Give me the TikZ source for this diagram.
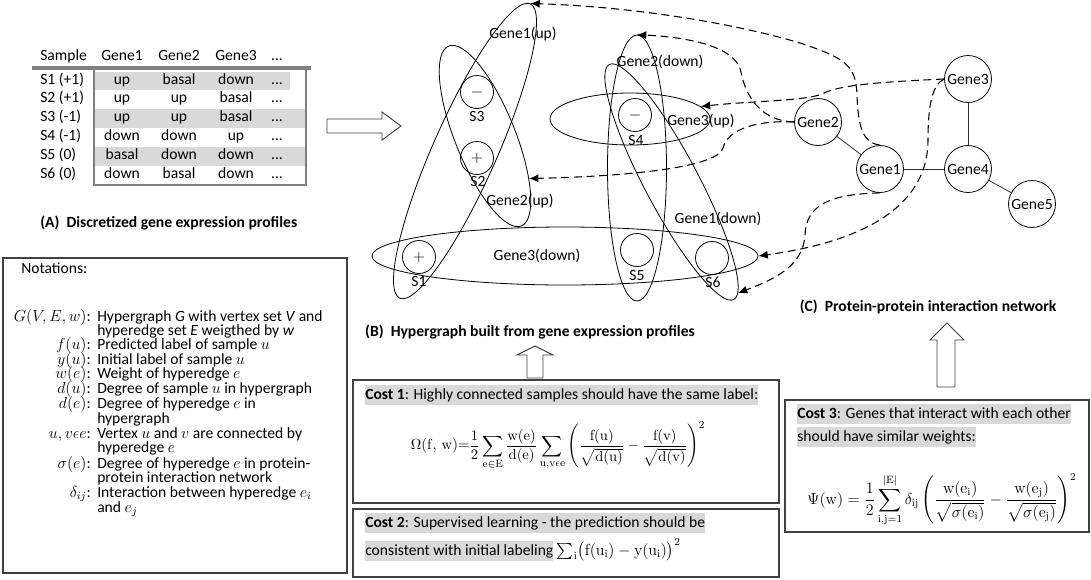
\documentclass[tikz,border=0pt]{standalone}
\usepackage{amsmath}
\usepackage[no-math]{fontspec}
\setmainfont{Carlito}
\usetikzlibrary{shapes.geometric,arrows.meta}
\definecolor{hlgray}{HTML}{D9D9D9}
\definecolor{tblgray}{HTML}{808080}
\definecolor{boxgray}{HTML}{404040}
\newcommand{\hlbox}[1]{{\setlength{\fboxsep}{0pt}\colorbox{hlgray}{\rule[-4.5pt]{0pt}{15.5pt}#1}}}
\begin{document}
\begin{tikzpicture}[x=0.75pt,y=-0.75pt,
  every node/.style={font=\fontsize{11.7}{14}\selectfont, inner sep=0pt},
  bold/.style={font=\fontsize{11.7}{14}\selectfont\bfseries},
  scirc/.style={circle, draw, minimum size=24.75pt, line width=0.6pt},
  gcirc/.style={circle, draw, minimum size=35.25pt, line width=0.6pt},
  hedge/.style={ellipse, draw, line width=0.6pt},
  ppi/.style={draw=black!80, line width=0.6pt},
  darr/.style={dash pattern=on 6pt off 3.5pt, line width=0.8pt, -{Latex[length=7pt,width=6pt]}},
  bigarrow/.style={draw=boxgray, fill=white, line width=0.7pt},
  panel/.style={draw=boxgray, line width=0.8pt}]
\useasboundingbox (0,0) rectangle (1091,579);

% ---------------- (A) table ----------------
\fill[hlgray] (95,72) rectangle (290,89.5);
\fill[hlgray] (95,109) rectangle (305,127.5);
\fill[hlgray] (95,147) rectangle (305,165.5);
\draw[tblgray, line width=1.4pt] (94,68) rectangle (306,185);
\draw[tblgray, line width=2.4pt] (32,68) -- (311,68);
\node[anchor=mid west] (hs) at (40,57) {Sample};
\node[anchor=mid] (hg1) at (122,57) {Gene1};
\node[anchor=mid] (hg2) at (179,57) {Gene2};
\node[anchor=mid] (hg3) at (236,57) {Gene3};
\node[anchor=mid] (hgd) at (277,57) {...};
\foreach \y/\s/\a/\b/\c [count=\i] in {81/S1 (+1)/up/basal/down, 99.5/S2 (+1)/up/up/basal, 118/S3 (-1)/up/up/basal, 137/S4 (-1)/down/down/up, 156/S5 (0)/basal/down/down, 175/S6 (0)/down/basal/down}{
  \node[anchor=mid west] (rs\i) at (40,\y) {\s};
  \node[anchor=mid] (ra\i) at (122,\y) {\a};
  \node[anchor=mid] (rb\i) at (179,\y) {\b};
  \node[anchor=mid] (rc\i) at (236,\y) {\c};
  \node[anchor=mid] (rd\i) at (277,\y) {...};
}
\node[bold, anchor=mid west] (lA) at (40,224) {(A)\ \ Discretized gene expression profiles};

% right arrow
\draw[bigarrow] (327,119) -- (382,119) -- (382,112) -- (401,126) -- (382,140) -- (382,133) -- (327,133) -- cycle;

% ---------------- Notations ----------------
\draw[panel] (3,258) rectangle (347,573);
\node[anchor=mid west] (nt) at (21,270) {Notations:};
\node[anchor=mid east] (n1l) at (91,318) {$G(V,E,w)$:};
\node[anchor=mid west] (n1a) at (97,318) {Hypergraph \textit{G} with vertex set \textit{V} and};
\node[anchor=mid west] (n1b) at (97,332) {hyperedge set \textit{E} weigthed by \textit{w}};
\node[anchor=mid east] (n2l) at (91,346) {$f(u)$:};
\node[anchor=mid west] (n2a) at (97,346) {Predicted label of sample $u$};
\node[anchor=mid east] (n3l) at (91,361) {$y(u)$:};
\node[anchor=mid west] (n3a) at (97,361) {Initial label of sample $u$};
\node[anchor=mid east] (n4l) at (91,375) {$w(e)$:};
\node[anchor=mid west] (n4a) at (97,375) {Weight of hyperedge $e$};
\node[anchor=mid east] (n5l) at (91,390) {$d(u)$:};
\node[anchor=mid west] (n5a) at (97,390) {Degree of sample $u$ in hypergraph};
\node[anchor=mid east] (n6l) at (91,405) {$d(e)$:};
\node[anchor=mid west] (n6a) at (97,405) {Degree of hyperedge $e$ in};
\node[anchor=mid west] (n6b) at (97,420) {hypergraph};
\node[anchor=mid east] (n7l) at (91,435) {$u,v\epsilon e$:};
\node[anchor=mid west] (n7a) at (97,435) {Vertex $u$ and $v$ are connected by};
\node[anchor=mid west] (n7b) at (97,449) {hyperedge $e$};
\node[anchor=mid east] (n8l) at (91,465) {$\sigma(e)$:};
\node[anchor=mid west] (n8a) at (97,465) {Degree of hyperedge $e$ in protein-};
\node[anchor=mid west] (n8b) at (97,479) {protein interaction network};
\node[anchor=mid east] (n9l) at (91,494) {$\delta_{ij}$:};
\node[anchor=mid west] (n9a) at (97,494) {Interaction between hyperedge $e_i$};
\node[anchor=mid west] (n9b) at (97,509) {and $e_j$};

% ---------------- (B) hypergraph ----------------
\node[hedge, minimum width=241.5pt, minimum height=48pt, rotate=66.1] (h1) at (465,151) {};
\node[hedge, minimum width=145.5pt, minimum height=45pt, rotate=112] (h2) at (485,136) {};
\node[hedge, minimum width=120pt, minimum height=39pt] (h3) at (630,119) {};
\node[hedge, minimum width=44.25pt, minimum height=199.5pt] (h4) at (637,168) {};
\node[hedge, minimum width=199.5pt, minimum height=40.5pt, rotate=117.9] (h5) at (671.5,182) {};
\node[hedge, minimum width=289.5pt, minimum height=43.5pt] (h6) at (565,256) {};

\node[anchor=mid] (t1) at (523,35) {Gene1(up)};
\node[anchor=mid] (t2) at (520,202) {Gene2(up)};
\node[anchor=mid] (t3) at (701,122) {Gene3(up)};
\node[anchor=mid] (t4) at (660,63) {Gene2(down)};
\node[anchor=mid] (t5) at (718,220) {Gene1(down)};
\node[anchor=mid] (t6) at (537,257) {Gene3(down)};

\node[scirc] (s3) at (477,92) {$-$};
\node[anchor=mid] (s3l) at (477,118) {S3};
\node[scirc] (s2) at (477,158) {$+$};
\node[anchor=mid] (s2l) at (478,183) {S2};
\node[scirc] (s1) at (419,257) {$+$};
\node[anchor=mid] (s1l) at (419,283) {S1};
\node[scirc] (s4) at (635,115) {$-$};
\node[anchor=mid] (s4l) at (636,142) {S4};
\node[scirc] (s5) at (637,250) {};
\node[anchor=mid] (s5l) at (637,277) {S5};
\node[scirc] (s6) at (712,258) {};
\node[anchor=mid] (s6l) at (713,284) {S6};

\node[bold, anchor=mid] (lB) at (530,333) {(B)\ \ Hypergraph built from gene expression profiles};

% ---------------- (C) PPI network ----------------
\node[gcirc] (g1) at (880,169) {Gene1};
\node[gcirc] (g2) at (818,122) {Gene2};
\node[gcirc] (g3) at (968,79) {Gene3};
\node[gcirc] (g4) at (968,169) {Gene4};
\node[gcirc] (g5) at (1032,204) {Gene5};
\draw[ppi] (g2) -- (g1);
\draw[ppi] (g1) -- (g4);
\draw[ppi] (g3) -- (g4);
\draw[ppi] (g4) -- (g5);

\node[bold, anchor=mid] (lC) at (928,308) {(C)\ \ Protein-protein interaction network};

% dashed mapping arrows
\draw[darr] (g1.north) .. controls (862,143) and (858,125) .. (857,95) .. controls (856,65) and (845,58) .. (800,43) .. controls (740,25) and (640,7) .. (h1.east);
\draw[darr] (g2.west) .. controls (762,121) and (746,98) .. (741,72) .. controls (737,50) and (700,38) .. (h4.north);
\draw[darr] (g3.west) .. controls (880,82) and (838,85) .. (822,94) .. controls (805,101) and (750,101) .. (h3.10);
\draw[darr] (g2.west) .. controls (760,120) and (728,128) .. (723,148) .. controls (718,166) and (640,176) .. (h2.204);
\draw[darr] (g1.south) .. controls (830,194) and (806,205) .. (805,235) .. controls (803,266) and (775,279) .. (h5.183);
\draw[darr] (g3.west) .. controls (931,85) and (928,110) .. (928,140) .. controls (928,200) and (875,240) .. (h6.east);

% ---------------- up arrows ----------------
\draw[bigarrow] (527,378) -- (527,355) -- (517,355) -- (535,346) -- (553,355) -- (543,355) -- (543,378) -- cycle;
\draw[bigarrow] (937,387) -- (937,340) -- (930,340) -- (947,323) -- (964,340) -- (955,340) -- (955,387) -- cycle;

% ---------------- Cost boxes ----------------
\draw[panel] (353,380) rectangle (779,503);
\node[anchor=mid west] (c1t) at (365,396) {\hlbox{\textbf{Cost 1}: Highly connected samples should have the same label:}};
\node[font=\fontsize{11}{13}\selectfont] (c1f) at (558,446) {$\displaystyle \Omega(\mathrm{f,\,w}){=}\frac{1}{2}\sum_{\mathrm{e\in E}}\frac{\mathrm{w(e)}}{\mathrm{d(e)}}\sum_{\mathrm{u,v\epsilon e}}\left(\frac{\mathrm{f(u)}}{\sqrt{\mathrm{d(u)}}}-\frac{\mathrm{f(v)}}{\sqrt{\mathrm{d(v)}}}\right)^{2}$};

\draw[panel] (353,509) rectangle (779,577);
\node[anchor=mid west] (c2a) at (365,524) {\hlbox{\textbf{Cost 2}: Supervised learning - the prediction should be}};
\node[anchor=mid west] (c2b) at (365,552) {\hlbox{consistent with initial labeling} $\sum_{\mathrm{i}}\bigl(\mathrm{f(u_i)}-\mathrm{y(u_i)}\bigr)^{2}$};

\draw[panel] (785,400) rectangle (1089,532);
\node[anchor=mid west] (c3a) at (797,415) {\hlbox{\textbf{Cost 3}: Genes that interact with each other}};
\node[anchor=mid west] (c3b) at (797,438) {\hlbox{should have similar weights:}};
\node[font=\fontsize{12}{14}\selectfont] (c3f) at (942,500) {$\displaystyle \Psi(\mathrm{w})=\frac{1}{2}\sum_{\mathrm{i,j=1}}^{|\mathrm{E}|}\delta_{\mathrm{ij}}\left(\frac{\mathrm{w(e_i)}}{\sqrt{\sigma(\mathrm{e_i})}}-\frac{\mathrm{w(e_j)}}{\sqrt{\sigma(\mathrm{e_j})}}\right)^{2}$};
\end{tikzpicture}
\end{document}
